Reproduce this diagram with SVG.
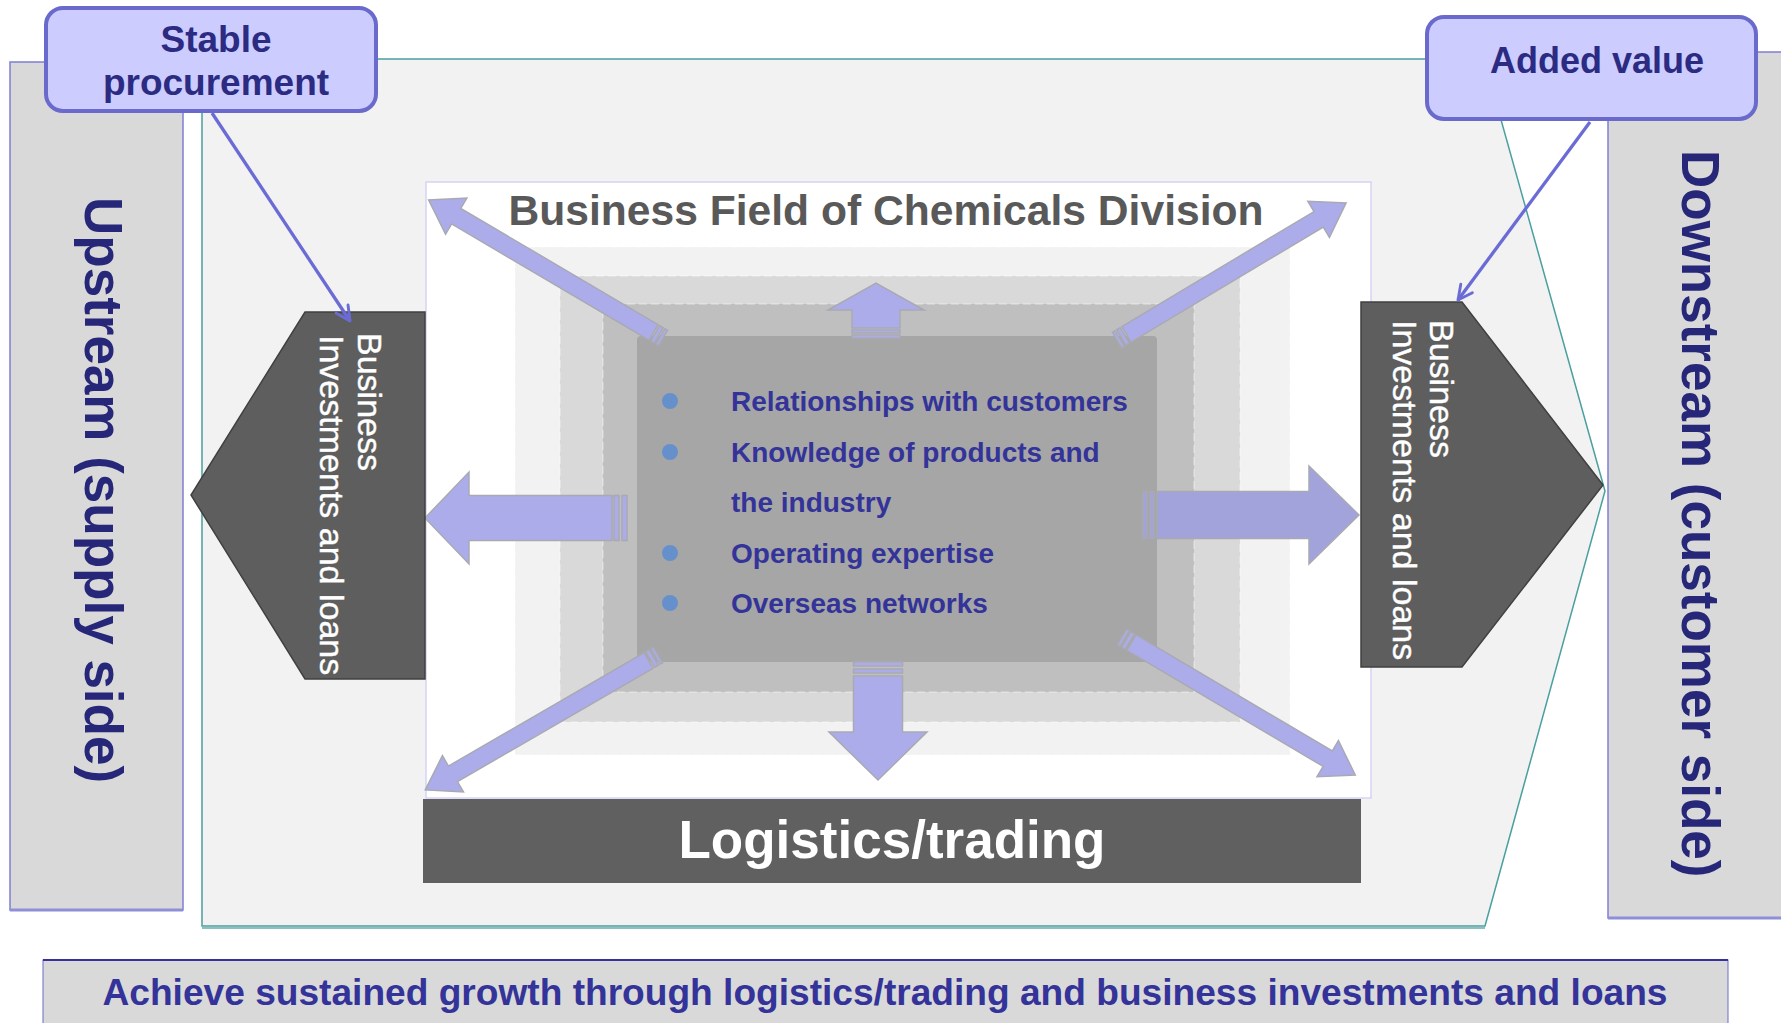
<svg xmlns="http://www.w3.org/2000/svg" width="1781" height="1023" viewBox="0 0 1781 1023">
  <defs>
    <style>
      .side { fill: #d9d9d9; stroke: #7f7fd4; stroke-width: 1.5; }
      .side-label { font-family: "Liberation Sans", Arial, sans-serif; font-weight: bold; font-size: 53px; fill: #27277a; }
      .callout { fill: #ccccff; stroke: #6a6acc; stroke-width: 4; }
      .callout-label { font-family: "Liberation Sans", Arial, sans-serif; font-weight: bold; fill: #2b2b82; text-anchor: middle; }
      .pent { fill: #5e5e5e; stroke: #404040; stroke-width: 1.5; }
      .pent-label { font-family: "Liberation Sans", Arial, sans-serif; font-size: 34px; fill: #ffffff; stroke: #ffffff; stroke-width: 0.4; }
      .layer { stroke: #ffffff; stroke-opacity: 0.35; stroke-width: 1.5; stroke-dasharray: 8 4; }
      .bullet { fill: #6690cc; }
      .item { font-family: "Liberation Sans", Arial, sans-serif; font-weight: bold; font-size: 28px; fill: #333399; }
      .blk { fill: #acacea; stroke: #a9a9b4; stroke-width: 1.5; stroke-linejoin: miter; }
      .blk-r { fill: #a3a3dc; stroke: #a9a9b4; stroke-width: 1.5; }
      .link { fill: none; stroke: #6b6bd6; stroke-width: 3.3; }
    </style>
    <marker id="open-head" viewBox="0 0 10 10" refX="9" refY="5" markerWidth="18" markerHeight="18" markerUnits="userSpaceOnUse" orient="auto">
      <path d="M1,1 L9,5 L1,9" fill="none" stroke="#6b6bd6" stroke-width="1.6" stroke-linecap="round" stroke-linejoin="round"/>
    </marker>
  </defs>

  <rect x="0" y="0" width="1781" height="1023" fill="#ffffff"/>

  <!-- supply side column -->
  <g id="upstream">
    <rect class="side" x="10" y="62" width="173" height="848"/>
    <line x1="10" y1="910" x2="183" y2="910" stroke="#8f8fd8" stroke-width="3"/>
    <text class="side-label" transform="translate(85,197) rotate(90)" x="0" y="0">Upstream (supply side)</text>
  </g>

  <!-- customer side column -->
  <g id="downstream">
    <rect class="side" x="1608" y="52" width="180" height="866"/>
    <line x1="1608" y1="918" x2="1781" y2="918" stroke="#8f8fd8" stroke-width="3"/>
    <text class="side-label" transform="translate(1682,150) rotate(90)" x="0" y="0">Downstream (customer side)</text>
  </g>

  <!-- field backdrop -->
  <g id="field">
    <polygon points="202,59 1484,59 1605,491 1485,926 202,926" fill="#f2f2f2" stroke="#4a9f9f" stroke-width="1.5"/>
    <line x1="202" y1="928" x2="1485" y2="928" stroke="#8cc0c0" stroke-width="2"/>
  </g>

  <!-- business field of the division -->
  <g id="business-field">
    <rect x="426" y="182" width="945" height="616" fill="#ffffff" stroke="#d4d4f4" stroke-width="1.5"/>
    <rect class="layer" x="515" y="247" width="775" height="508" fill="#f2f2f2"/>
    <rect class="layer" x="560" y="276" width="680" height="446" fill="#d9d9d9"/>
    <rect class="layer" x="603" y="304" width="591" height="388" fill="#bfbfbf"/>
    <rect x="637" y="336" width="520" height="326" rx="4" fill="#a6a6a6"/>
    <text x="886" y="225" font-family="'Liberation Sans', Arial, sans-serif" font-weight="bold" font-size="42.6" fill="#595959" text-anchor="middle">Business Field of Chemicals Division</text>
  </g>

  <!-- strengths -->
  <g id="strengths">
    <circle class="bullet" cx="670" cy="401" r="8"/>
    <circle class="bullet" cx="670" cy="452" r="8"/>
    <circle class="bullet" cx="670" cy="553" r="8"/>
    <circle class="bullet" cx="670" cy="603" r="8"/>
    <text class="item" x="731" y="411">Relationships with customers</text>
    <text class="item" x="731" y="462">Knowledge of products and</text>
    <text class="item" x="731" y="512">the industry</text>
    <text class="item" x="731" y="563">Operating expertise</text>
    <text class="item" x="731" y="613">Overseas networks</text>
  </g>

  <!-- outward block arrows -->
  <g id="block-arrows">
    <g transform="translate(663,338) rotate(-149.5)">
      <path class="blk" d="M0,-9 h3 v18 h-3 Z M5,-9 h4 v18 h-4 Z M11,-9 H240 V-21 L272,0 L240,21 V9 H11 Z"/>
    </g>
    <g transform="translate(1117,340) rotate(-30.9)">
      <path class="blk" d="M0,-9 h3 v18 h-3 Z M5,-9 h4 v18 h-4 Z M11,-9 H235 V-21 L267,0 L235,21 V9 H11 Z"/>
    </g>
    <g transform="translate(658,655) rotate(149.9)">
      <path class="blk" d="M0,-9 h3 v18 h-3 Z M5,-9 h4 v18 h-4 Z M11,-9 H237 V-21 L269,0 L237,21 V9 H11 Z"/>
    </g>
    <g transform="translate(1122,637) rotate(30.6)">
      <path class="blk" d="M0,-9 h3 v18 h-3 Z M5,-9 h4 v18 h-4 Z M11,-9 H239 V-21 L271,0 L239,21 V9 H11 Z"/>
    </g>
    <g transform="translate(627,518) rotate(180)">
      <path class="blk" d="M0,-22.5 h5 v45 h-5 Z M8,-22.5 h5 v45 h-5 Z M15,-22.5 H158 V-46 L202,0 L158,46 V22.5 H15 Z"/>
    </g>
    <g transform="translate(1143,515)">
      <path class="blk-r" d="M0,-23.5 h4 v47 h-4 Z M7,-23.5 h4 v47 h-4 Z M14,-23.5 H166 V-49 L216,0 L166,49 V23.5 H14 Z"/>
    </g>
    <g transform="translate(876,338) rotate(-90)">
      <path class="blk" d="M0,-24 h3 v48 h-3 Z M5,-24 h3 v48 h-3 Z M10,-24 H28 V-48 L55,0 L28,48 V24 H10 Z"/>
    </g>
    <g transform="translate(878,662) rotate(90)">
      <path class="blk" d="M0,-24.5 h4 v49 h-4 Z M7,-24.5 h4 v49 h-4 Z M14,-24.5 H70 V-49 L118,0 L70,49 V24.5 H14 Z"/>
    </g>
  </g>

  <!-- logistics / trading bar -->
  <g id="logistics">
    <rect x="423" y="799" width="938" height="84" fill="#606060"/>
    <text x="892" y="858" font-family="'Liberation Sans', Arial, sans-serif" font-weight="bold" font-size="53" fill="#ffffff" text-anchor="middle">Logistics/trading</text>
  </g>

  <!-- investments and loans, supply side -->
  <g id="invest-left">
    <polygon class="pent" points="305,312 425,312 425,679 305,679 191,495"/>
    <g transform="translate(383,333) rotate(90)">
      <text class="pent-label" x="0" y="25">Business</text>
      <text class="pent-label" x="2" y="63">Investments and loans</text>
    </g>
  </g>

  <!-- investments and loans, customer side -->
  <g id="invest-right">
    <polygon class="pent" points="1361,302 1462,302 1603,485 1462,667 1361,667"/>
    <g transform="translate(1455,320) rotate(90)">
      <text class="pent-label" x="0" y="25">Business</text>
      <text class="pent-label" x="0" y="62">Investments and loans</text>
    </g>
  </g>

  <!-- callout connectors -->
  <g id="connectors">
    <line class="link" x1="212" y1="113" x2="350" y2="321" marker-end="url(#open-head)"/>
    <line class="link" x1="1590" y1="122" x2="1458" y2="300" marker-end="url(#open-head)"/>
  </g>

  <g id="stable-procurement">
    <rect class="callout" x="46" y="8" width="330" height="103" rx="17"/>
    <text class="callout-label" x="216" y="52" font-size="37">Stable</text>
    <text class="callout-label" x="216" y="95" font-size="37">procurement</text>
  </g>

  <g id="added-value">
    <rect class="callout" x="1427" y="17" width="329" height="102" rx="17"/>
    <text class="callout-label" x="1597" y="73" font-size="36">Added value</text>
  </g>

  <!-- summary banner -->
  <g id="summary">
    <rect x="43" y="960" width="1685" height="80" fill="#d9d9d9" stroke="#6a6acc" stroke-width="1"/>
    <line x1="43" y1="960" x2="1728" y2="960" stroke="#333399" stroke-width="2"/>
    <text x="885" y="1005" font-family="'Liberation Sans', Arial, sans-serif" font-weight="bold" font-size="37" fill="#333399" text-anchor="middle" textLength="1565" lengthAdjust="spacingAndGlyphs">Achieve sustained growth through logistics/trading and business investments and loans</text>
  </g>
</svg>
